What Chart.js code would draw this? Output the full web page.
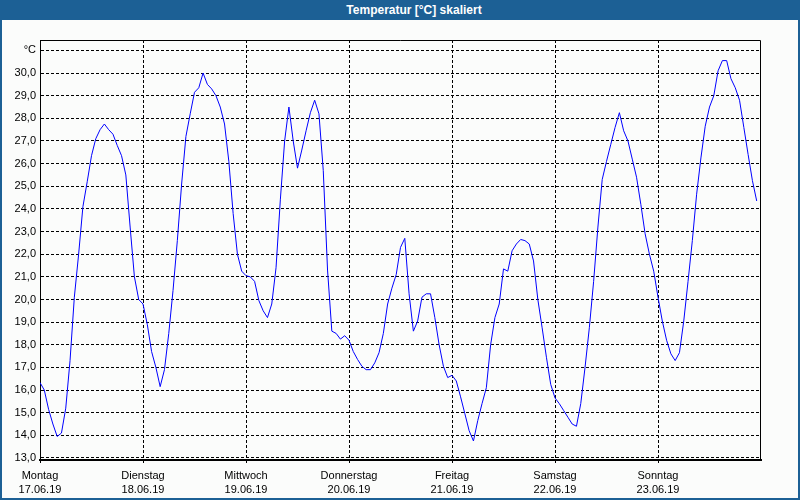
<!DOCTYPE html>
<html>
<head>
<meta charset="utf-8">
<script src="https://cdn.jsdelivr.net/npm/chart.js@4.4.1/dist/chart.umd.min.js"></script>
<style>
body { margin: 0; }
#wrap { position: relative; width: 800px; height: 500px; background: #fbfcfb; overflow: hidden; }
#chart { position: absolute; left: 0; top: 0; }
#titlebar { position: absolute; left: 0; top: 0; width: 800px; height: 20px; background: #1c6095; color: #fff;
  font: bold 12px "Liberation Sans", Arial, sans-serif; line-height: 20px; text-align: center;
  padding-left: 28px; box-sizing: border-box; }
#frame { position: absolute; left: 0; top: 0; width: 800px; height: 500px; border: 2px solid #1c6095;
  box-sizing: border-box; pointer-events: none; }
</style>
</head>
<body>
<div id="wrap">
  <canvas id="chart" width="800" height="500"></canvas>
  <div id="titlebar">Temperatur [°C] skaliert</div>
  <div id="frame"></div>
</div>
<script>
// hourly values, 17.06.19 00:00 .. 23.06.19 23:00
var temps = [
  16.33, 16.0, 15.15, 14.5, 13.95, 14.1, 15.2, 17.3, 20.1, 22.0, 24.1, 25.2,
  26.35, 27.1, 27.5, 27.75, 27.5, 27.3, 26.8, 26.35, 25.5, 23.2, 21.0, 20.0,
  19.8, 18.9, 17.7, 17.0, 16.15, 16.9, 18.5, 20.4, 22.6, 25.1, 27.2, 28.2,
  29.15, 29.35, 30.0, 29.5, 29.3, 29.0, 28.5, 27.75, 26.1, 23.8, 22.0, 21.25,
  21.05, 21.0, 20.8, 19.95, 19.5, 19.2, 19.8, 21.4, 24.4, 27.0, 28.5, 27.0,
  25.8, 26.6, 27.45, 28.25, 28.8, 28.2, 25.7, 21.3, 18.6, 18.5, 18.25, 18.4,
  18.2, 17.7, 17.35, 17.05, 16.9, 16.9, 17.2, 17.65, 18.5, 19.8, 20.5, 21.1,
  22.3, 22.7, 20.25, 18.6, 19.05, 20.1, 20.25, 20.25, 19.2, 18.0, 17.05, 16.55,
  16.65, 16.4, 15.7, 14.95, 14.2, 13.75, 14.65, 15.4, 16.1, 18.0, 19.2, 19.8,
  21.35, 21.25, 22.15, 22.45, 22.65, 22.6, 22.45, 21.7, 20.0, 18.75, 17.45, 16.25,
  15.65, 15.4, 15.1, 14.8, 14.5, 14.4, 15.4, 17.0, 18.75, 20.8, 23.2, 25.3,
  26.1, 26.85, 27.6, 28.25, 27.45, 27.0, 26.2, 25.4, 24.2, 22.9, 22.0, 21.25,
  20.1, 19.05, 18.2, 17.6, 17.3, 17.65, 19.05, 20.8, 22.6, 24.65, 26.25, 27.65,
  28.5, 29.0, 30.1, 30.55, 30.55, 29.75, 29.35, 28.8, 27.6, 26.4, 25.25, 24.35
];
var dayNames = ["Montag", "Dienstag", "Mittwoch", "Donnerstag", "Freitag", "Samstag", "Sonntag"];
var dayDates = ["17.06.19", "18.06.19", "19.06.19", "20.06.19", "21.06.19", "22.06.19", "23.06.19"];
var dayHours = [0, 24, 48, 72, 96, 120, 144];
var yTicks = [13, 14, 15, 16, 17, 18, 19, 20, 21, 22, 23, 24, 25, 26, 27, 28, 29, 30, 31];

var points = [];
for (var i = 0; i < temps.length; i++) {
    points.push({x: i, y: temps[i]});
}

var tickFont = {family: "'Liberation Sans', Arial, sans-serif", size: 11, lineHeight: 1.36};

var frameLines = {
    id: 'frameLines',
    afterDraw: function (chart) {
        var a = chart.chartArea, ctx = chart.ctx;
        ctx.save();
        ctx.strokeStyle = '#000';
        ctx.lineWidth = 1;
        ctx.beginPath();
        ctx.moveTo(a.left, a.top + 0.5);
        ctx.lineTo(a.right - 0.5, a.top + 0.5);
        ctx.lineTo(a.right - 0.5, a.bottom);
        ctx.stroke();
        ctx.restore();
    }
};

var ctx = document.getElementById("chart").getContext('2d');
var chart = new Chart(ctx, {
    type: 'line',
    data: {
        datasets: [{
            label: 'Temperatur',
            data: points,
            borderColor: "#0000ff",
            borderWidth: 1,
            pointRadius: 0,
            tension: 0,
            fill: false
        }]
    },
    options: {
        responsive: false,
        devicePixelRatio: 1,
        animation: false,
        layout: {padding: {left: 0, top: 40, right: 39, bottom: 0}},
        plugins: {
            legend: {display: false},
            tooltip: {enabled: false}
        },
        scales: {
            x: {
                type: 'linear',
                min: 0,
                max: 168,
                afterBuildTicks: function (sc) {
                    sc.ticks = dayHours.map(function (h) { return {value: h}; });
                },
                afterFit: function (sc) { sc.height = 40; },
                ticks: {
                    autoSkip: false,
                    maxRotation: 0,
                    padding: 5,
                    color: '#000',
                    font: tickFont,
                    callback: function (v) {
                        var k = dayHours.indexOf(v);
                        return k < 0 ? '' : [dayNames[k], dayDates[k]];
                    }
                },
                grid: {color: '#000', lineWidth: 1, tickLength: 3},
                border: {display: true, color: '#000', width: 2, dash: [3, 2]}
            },
            y: {
                min: 12.91,
                max: 31.46,
                afterBuildTicks: function (sc) {
                    sc.ticks = yTicks.map(function (v) { return {value: v}; });
                },
                afterFit: function (sc) { sc.width = 40; },
                ticks: {
                    padding: 4,
                    color: '#000',
                    font: tickFont,
                    callback: function (v) {
                        return v === 31 ? '°C' : v.toFixed(1).replace('.', ',');
                    }
                },
                grid: {color: '#000', lineWidth: 1, drawTicks: false},
                border: {display: true, color: '#000', width: 1, dash: [3, 2]}
            }
        }
    },
    plugins: [frameLines]
});
</script>
</body>
</html>
